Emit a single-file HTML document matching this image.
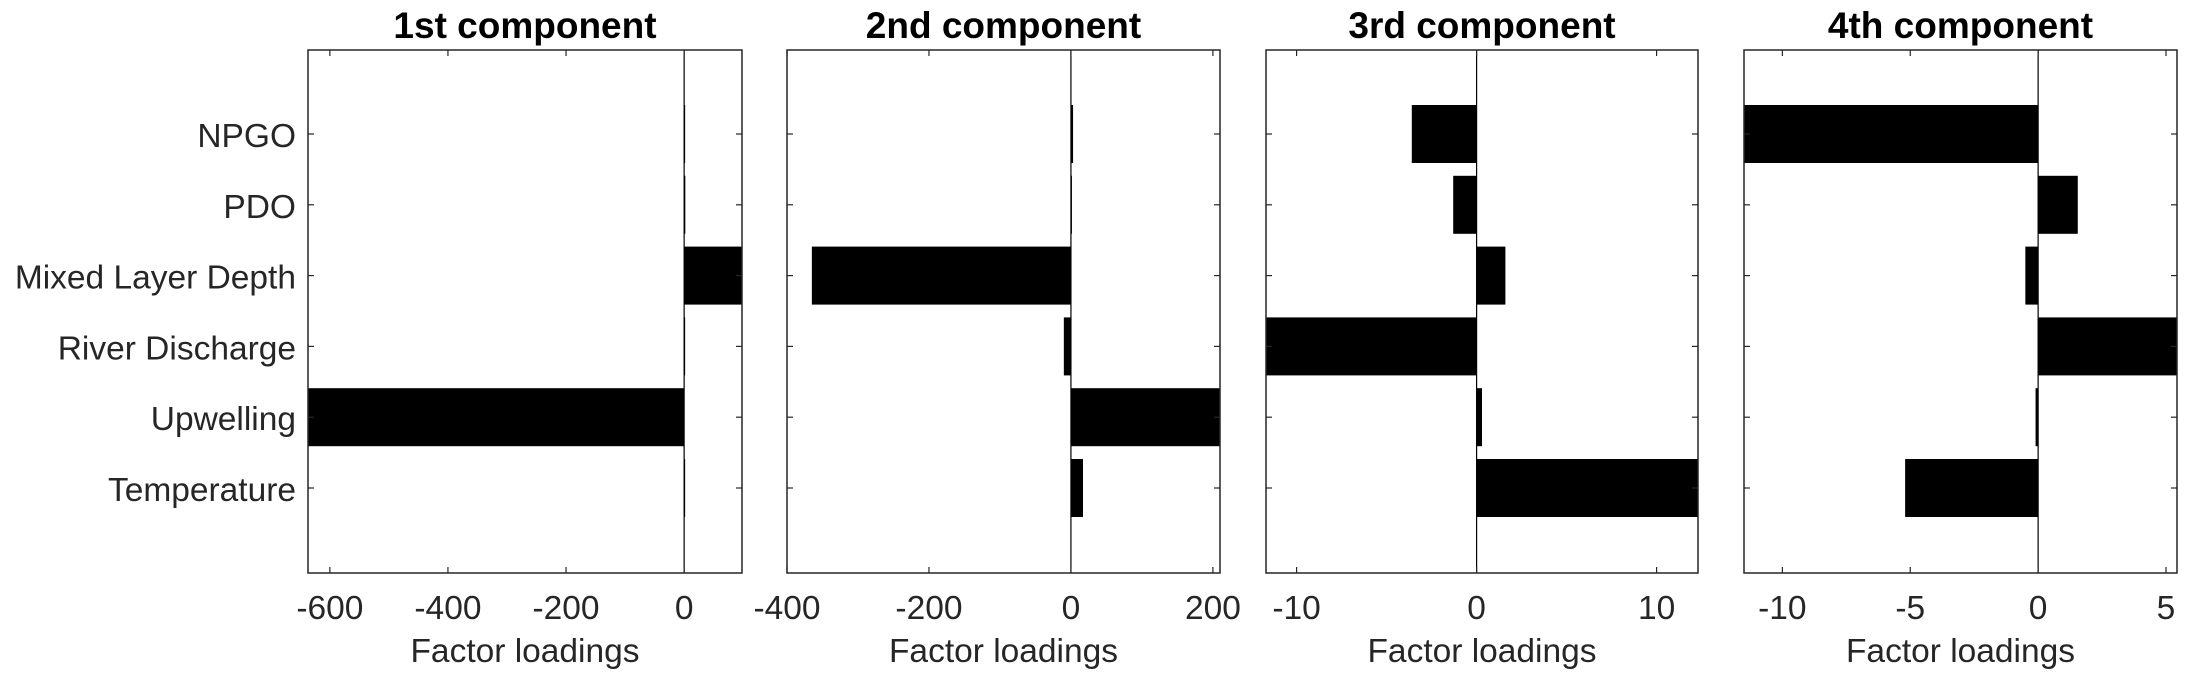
<!DOCTYPE html>
<html><head><meta charset="utf-8"><style>
html,body{margin:0;padding:0;background:#fff}
svg{display:block}
text{font-family:"Liberation Sans",Arial,sans-serif;fill:#262626}
</style></head><body>
<svg id="chart" width="2200" height="700" viewBox="0 0 2200 700" xmlns="http://www.w3.org/2000/svg"></svg>
<script>
const categories = ["NPGO","PDO","Mixed Layer Depth","River Discharge","Upwelling","Temperature"];
const titles = ["1st component","2nd component","3rd component","4th component"];
const comp1 = [0.5, 2, 100, 0.3, -640, 0.3];
const comp2 = [3, 0.5, -365, -10, 215, 17];
const comp3 = [-3.6, -1.3, 1.6, -12, 0.3, 12.5];
const comp4 = [-11.8, 1.55, -0.5, 5.6, -0.1, -5.2];
const xlim1 = [-637, 98], ticks1 = [-600,-400,-200,0];
const xlim2 = [-400, 210], ticks2 = [-400,-200,0,200];
const xlim3 = [-11.7, 12.3], ticks3 = [-10,0,10];
const xlim4 = [-11.5, 5.43], ticks4 = [-10,-5,0,5];

const svgEl = document.getElementById('chart');
const NS = "http://www.w3.org/2000/svg";
function mk(tag, attrs, parent){const e=document.createElementNS(NS,tag);for(const k in attrs)e.setAttribute(k,attrs[k]);(parent||svgEl).appendChild(e);return e;}

const panels = [
  {vals:comp1, xlim:xlim1, ticks:ticks1, x0:308, x1:742},
  {vals:comp2, xlim:xlim2, ticks:ticks2, x0:787, x1:1220},
  {vals:comp3, xlim:xlim3, ticks:ticks3, x0:1266, x1:1698},
  {vals:comp4, xlim:xlim4, ticks:ticks4, x0:1744, x1:2177}
];
const axTop=50, axBot=573;
const yc = i => 134 + i*70.8;
const barH = 58;

panels.forEach((p,pi)=>{
  const sx = v => p.x0 + (v - p.xlim[0])/(p.xlim[1]-p.xlim[0])*(p.x1-p.x0);
  const g = mk('g',{});
  
  
  const clip = mk('clipPath',{id:'clip'+pi}, g);
  mk('rect',{x:p.x0,y:axTop,width:p.x1-p.x0,height:axBot-axTop}, clip);
  const bars = mk('g',{'clip-path':'url(#clip'+pi+')'}, g);
  p.vals.forEach((v,i)=>{
    const a=sx(0), b=sx(v);
    const r = mk('rect',{x:Math.min(a,b),y:yc(i)-barH/2,width:Math.max(Math.abs(b-a),1),height:barH,fill:'#000'}, bars);
    
    
  });
  mk('line',{x1:sx(0),x2:sx(0),y1:axTop,y2:axBot,stroke:'#000','stroke-width':1.2}, bars);
  const box = mk('rect',{x:p.x0,y:axTop,width:p.x1-p.x0,height:axBot-axTop,fill:'none',stroke:'#262626','stroke-width':1.5}, g);
  
  
  p.ticks.forEach(t=>{
    const x=sx(t);
    mk('line',{x1:x,x2:x,y1:axBot,y2:axBot-6,stroke:'#262626','stroke-width':1.2}, g);
    mk('line',{x1:x,x2:x,y1:axTop,y2:axTop+6,stroke:'#262626','stroke-width':1.2}, g);
    const tl = mk('text',{x:x,y:619,'text-anchor':'middle','font-size':33.5}, g);
    tl.textContent = t;
    
    
  });
  categories.forEach((c,i)=>{
    mk('line',{x1:p.x0,x2:p.x0+6,y1:yc(i),y2:yc(i),stroke:'#262626','stroke-width':1.2}, g);
    mk('line',{x1:p.x1,x2:p.x1-6,y1:yc(i),y2:yc(i),stroke:'#262626','stroke-width':1.2}, g);
    if(pi===0){
      const yl = mk('text',{x:296,y:yc(i)+13,'text-anchor':'end','font-size':33.5}, g);
      yl.textContent = c;
      
      
    }
  });
  const xt = mk('text',{x:(p.x0+p.x1)/2,y:662,'text-anchor':'middle','font-size':33.5}, g);
  xt.textContent = 'Factor loadings';
  
  
  const tt = mk('text',{x:(p.x0+p.x1)/2,y:38,'text-anchor':'middle','font-size':37,'font-weight':'bold'}, g);
  tt.style.fill='#000';
  tt.textContent = titles[pi];
  
  
});
</script>
</body></html>
